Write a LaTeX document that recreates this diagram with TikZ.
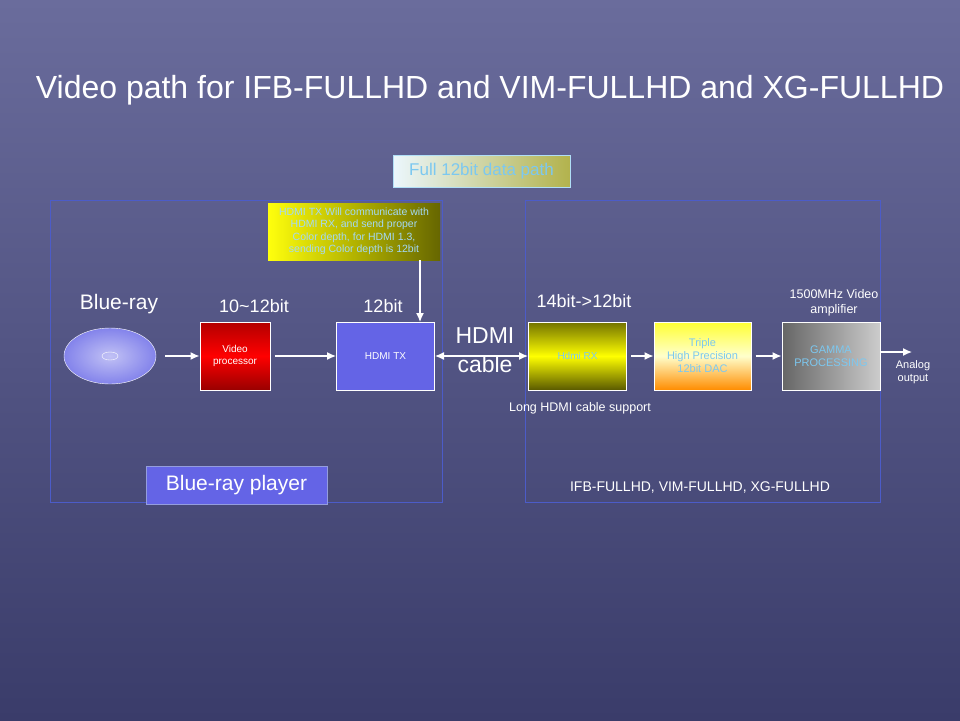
\documentclass[tikz,border=0pt]{standalone}
\usepackage{fontspec}
\setmainfont{Liberation Sans}
\usetikzlibrary{arrows.meta}
\definecolor{bgtop}{HTML}{6A6C9C}
\definecolor{bgbot}{HTML}{3A3C6A}
\definecolor{frameblue}{HTML}{4C5CC8}
\definecolor{txblue}{HTML}{6464E6}
\definecolor{skytext}{HTML}{7CC8F0}
\begin{document}
\begin{tikzpicture}[x=1pt,y=-1pt]
\tikzset{
  block/.style={draw=white, line width=1pt, minimum width=#1, minimum height=68pt, align=center, font=\fontsize{10}{12}\selectfont},
  block/.default=98pt,
  label/.style={text=white, font=\fontsize{18}{21}\selectfont},
  small/.style={text=white, font=\fontsize{11}{13}\selectfont, align=center},
  frame/.style={draw=frameblue, line width=0.6pt},
  flow/.style={-{Latex[length=9pt,width=8pt]}, white, line width=1.3pt, shorten <=4pt}
}
% Hintergrund
\shade[top color=bgtop, bottom color=bgbot] (0,0) rectangle (960,720);
\useasboundingbox (0,0) rectangle (960,720);

% Titel
\node[text=white, font=\fontsize{32}{38}\selectfont] (title) at (490,90) {Video path for IFB-FULLHD and VIM-FULLHD and XG-FULLHD};
\node[draw=skytext!60, left color=white!85!skytext, right color=yellow!40!gray, text=skytext, minimum width=177pt, minimum height=32pt, font=\fontsize{17}{20}\selectfont] (datapath) at (481.5,171) {Full 12bit data path};

% Rahmen
\draw[frame] (50,200) rectangle (442,502);
\draw[frame] (525,200) rectangle (880,502);

% Hinweis
\node[left color=yellow!95!white, right color=olive!80!black, text=skytext!70!white, minimum width=172pt, minimum height=57pt, align=center, font=\fontsize{10.5}{12.5}\selectfont] (note) at (354,231.5) {HDMI TX Will communicate with\\HDMI RX, and send proper\\Color depth, for HDMI 1.3,\\sending Color depth is 12bit};

% Disc
\draw[white, inner color=white!60!txblue, outer color=txblue!80!white] (110,356) ellipse (46pt and 28pt);
\draw[white] (110,356) ellipse (8pt and 4pt);
\node (disc) at (110,356) [minimum width=102pt, minimum height=56pt] {};

% Bloecke
\node[block=70pt, top color=red!70!black, bottom color=red!60!black, middle color=red, text=white] (video) at (235,356) {Video\\processor};
\node[block, fill=txblue, text=white] (hdmitx) at (385.5,356) {HDMI TX};
\node[block, top color=olive!90!black, bottom color=olive!70!black, middle color=yellow, text=skytext] (hdmirx) at (577.5,356) {Hdmi RX};
\node[block=97pt, top color=yellow!80!white, bottom color=orange!90!yellow, middle color=yellow!20!white, text=skytext, font=\fontsize{11}{13}\selectfont] (dac) at (702.5,356) {Triple\\High Precision\\12bit DAC};
\node[block, left color=gray!80!black, right color=gray!40!white, text=skytext, font=\fontsize{11}{13}\selectfont] (gamma) at (831,356) {GAMMA\\PROCESSING};
\coordinate (out) at (912,352);

% Beschriftungen
\node[label, font=\fontsize{21}{25}\selectfont] (bluelbl) at (119,304) {Blue-ray};
\node[label] (bit1) at (254,306) {10\textasciitilde12bit};
\node[label] (bit2) at (383,306) {12bit};
\node[label] (bit3) at (584,301) {14bit->12bit};
\node[small, font=\fontsize{12.5}{15}\selectfont] (amp) at (834,303) {1500MHz Video\\amplifier};
\node[text=white, align=center, font=\fontsize{23}{29}\selectfont] (cable) at (485,350) {HDMI\\cable};
\node[small] (analog) at (913,372) {Analog\\output};
\node[small, font=\fontsize{12.5}{15}\selectfont] (longcable) at (580,408) {Long HDMI cable support};
\node[fill=txblue, draw=frameblue!60!white, text=white, minimum width=181pt, minimum height=38pt, font=\fontsize{21}{25}\selectfont] (player) at (236.5,485) {Blue-ray player};
\node[text=white, font=\fontsize{14}{17}\selectfont] (models) at (700,488) {IFB-FULLHD, VIM-FULLHD, XG-FULLHD};

% Pfeile
\draw[flow] (disc) -- (video);
\draw[flow] (video) -- (hdmitx);
\draw[flow, shorten <=0pt] (note.south -| 420,0) -- (420,322);
\draw[flow, shorten <=0pt, {Latex[length=9pt,width=8pt]}-{Latex[length=9pt,width=8pt]}] (hdmitx) -- (hdmirx);
\draw[flow] (hdmirx) -- (dac);
\draw[flow] (dac) -- (gamma);
\draw[flow, shorten <=0pt] (gamma.east |- out) -- (out);
\end{tikzpicture}
\end{document}
